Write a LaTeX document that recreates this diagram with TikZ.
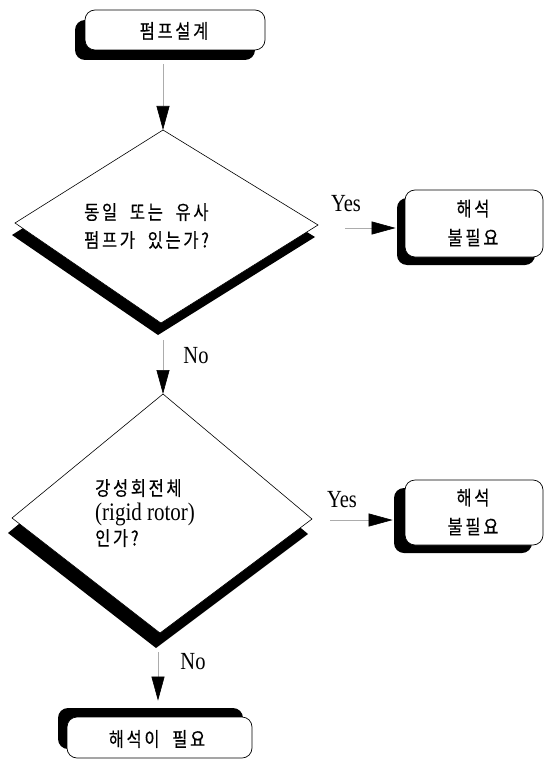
\documentclass[tikz,border=0pt]{standalone}
\usepackage{graphicx}
\usepackage{fontspec}
\setmainfont{Liberation Serif}
\newfontfamily\kr{Noto Sans CJK KR}[LetterSpace=16, WordSpace=2, FakeBold=0.4]
\usetikzlibrary{shadows,arrows.meta}
\newcommand\st[1]{\scalebox{1}[1.2]{#1}}
\begin{document}
\begin{tikzpicture}[x=1pt,y=-1pt,
  box/.style={draw=black, line width=0.7pt, fill=white, rounded corners=10pt, inner sep=0pt},
  dia/.style={draw=black, line width=0.6pt, fill=white, line join=miter},
  krtext/.style={font=\kr\fontsize{16.5}{29}\selectfont, align=center, inner sep=0pt},
  lbl/.style={font=\fontsize{20.5}{22}\selectfont, inner sep=0pt},
  conn/.style={draw=gray!65, line width=0.6pt, -{Triangle[length=24pt,width=13pt,color=black]}}
]
\useasboundingbox (0,0) rectangle (544,759);

% top box
\node[box, drop shadow={shadow xshift=-10pt, shadow yshift=-10pt, opacity=1, fill=black},
      minimum width=180pt, minimum height=40pt] (top) at (175,30) {};
\node[krtext] (toptxt) at (174,31) {\st{펌프설계}};

% diamond 1
\coordinate (d1t) at (163,130);
\coordinate (d1r) at (318,225);
\coordinate (d1b) at (161,323);
\coordinate (d1l) at (15,223);
\fill[black] ([shift={(-3,12)}]d1t) -- ([shift={(-3,12)}]d1r) -- ([shift={(-3,12)}]d1b) coordinate (d1sb) -- ([shift={(-3,12)}]d1l) -- cycle;
\path[dia] (d1t) -- (d1r) -- (d1b) -- (d1l) -- cycle;
\node[krtext, align=left, font=\kr\fontsize{16.5}{28}\selectfont, anchor=west] (d1txt) at (84,226) {\st{동일 또는 유사}\\\st{펌프가 있는가?}};

% yes box 1
\node[box, drop shadow={shadow xshift=-8pt, shadow yshift=-8pt, opacity=1, fill=black},
      minimum width=138pt, minimum height=67pt] (y1) at (474,223.5) {};
\node[krtext] (y1txt) at (473,223) {\st{해석}\\\st{불필요}};

% diamond 2
\coordinate (d2t) at (163,394);
\coordinate (d2r) at (312,519);
\coordinate (d2b) at (160,633);
\coordinate (d2l) at (12,518);
\fill[black] ([shift={(-4,15)}]d2t) -- ([shift={(-4,15)}]d2r) -- ([shift={(-4,15)}]d2b) coordinate (d2sb) -- ([shift={(-4,15)}]d2l) -- cycle;
\path[dia] (d2t) -- (d2r) -- (d2b) -- (d2l) -- cycle;
\node[krtext, align=left, font=\kr\fontsize{16.5}{25}\selectfont, anchor=west] (d2txt) at (95,513)
  {\st{강성회전체}\\\st{\rmfamily\fontsize{21}{25}\selectfont (rigid rotor)}\\\st{인가?}};

% yes box 2
\node[box, drop shadow={shadow xshift=-11pt, shadow yshift=-8pt, opacity=1, fill=black},
      minimum width=138pt, minimum height=65pt] (y2) at (474,512.5) {};
\node[krtext] (y2txt) at (473,512) {\st{해석}\\\st{불필요}};

% bottom box
\node[box, drop shadow={shadow xshift=-9pt, shadow yshift=9pt, opacity=1, fill=black},
      minimum width=185pt, minimum height=41pt] (bot) at (159.5,737.5) {};
\node[krtext] (bottxt) at (157,739) {\st{해석이 필요}};

% labels
\node[lbl] (yes1) at (346,204) {\st{Yes}};
\node[lbl] (no1) at (196,356) {\st{No}};
\node[lbl] (yes2) at (342,500) {\st{Yes}};
\node[lbl] (no2) at (193,662) {\st{No}};

% connectors
\coordinate (a2s) at (345,228);
\coordinate (a4s) at (330,520);
\draw[conn] ([yshift=-14pt]d1t |- top.south) -- (d1t);
\draw[conn] (a2s) -- ([xshift=-9pt]y1.west |- a2s);
\draw[conn] ([yshift=-5pt]d2t |- d1sb) -- (d2t);
\draw[conn] (a4s) -- ([xshift=-12pt]y2.west |- a4s);
\draw[conn] ([yshift=-4pt,xshift=2pt]d2sb) -- ([yshift=16pt,xshift=2pt]bot.north -| d2sb);
\end{tikzpicture}
\end{document}
